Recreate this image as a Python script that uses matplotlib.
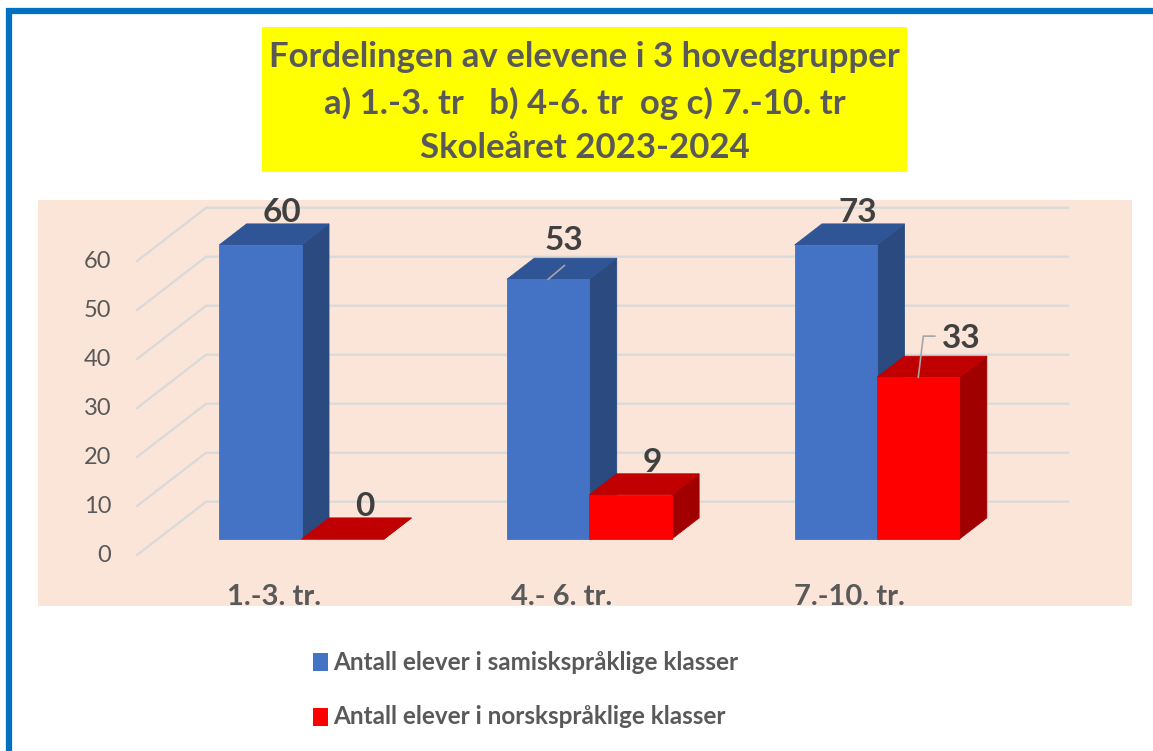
import matplotlib.pyplot as plt
from matplotlib.patches import Polygon, Rectangle

plt.rcParams['font.family'] = ['Lato', 'DejaVu Sans']


# --------------------------------------------------
# 1. Data
# --------------------------------------------------
categories = ["1.-3. tr.", "4.- 6. tr.", "7.-10. tr."]
series_names = [
    "Antall elever i samiskspråklige klasser",
    "Antall elever i norskspråklige klasser",
]
samisk = [60, 53, 73]
norsk = [0, 9, 33]
y_ticks = [0, 10, 20, 30, 40, 50, 60]
title_lines = [
    "Fordelingen av elevene i 3 hovedgrupper",
    "a) 1.-3. tr   b) 4-6. tr  og c) 7.-10. tr",
    "Skoleåret 2023-2024",
]


# --------------------------------------------------
# 2. Styling
# --------------------------------------------------
W, H = 1153, 751
front_col = ["#4472C4", "#FF0000"]
top_col = ["#2F5597", "#C00000"]
side_col = ["#2A4A80", "#A00000"]
grid_col = "#D9D9D9"
text_col = "#595959"
label_col = "#404040"

# pseudo-3D geometry (category units on x, value units on y)
px_per_cat = 287.7
px_per_val = 4.9
x0_px, y0_px = 280, 555.7
depth_dx = 70 / px_per_cat
depth_dv = 54 / px_per_val
bar_w = 82.4 / px_per_cat
d_front, d_back = 0.31, 0.70
y_max = max(y_ticks)


def proj(x, v, d):
    return (x + d * depth_dx, v + d * depth_dv)


def fx(px):
    return px / W


def fy(py):
    return 1 - py / H


fig = plt.figure(figsize=(W / 100, H / 100), dpi=100)
ax = fig.add_axes([0, 0, 1, 1])
ax.set_xlim(-x0_px / px_per_cat, (W - x0_px) / px_per_cat)
ax.set_ylim((y0_px - H) / px_per_val, y0_px / px_per_val)
ax.axis("off")

# frame, title box, plot area
ax.add_patch(Rectangle((fx(9), fy(H + 20)), fx(W + 40), fy(11) - fy(H + 20),
                       transform=fig.transFigure, fill=False,
                       edgecolor="#0070C0", linewidth=4.5, zorder=0))
ax.add_patch(Rectangle((fx(262), fy(172)), fx(907) - fx(262), fy(27) - fy(172),
                       transform=fig.transFigure, facecolor="#FFFF00",
                       edgecolor="none", zorder=0))
ax.add_patch(Rectangle((fx(38), fy(606)), fx(1132) - fx(38), fy(200) - fy(606),
                       transform=fig.transFigure, facecolor="#FAE5D8",
                       edgecolor="none", zorder=0))

for line, py in zip(title_lines, [57, 103, 148]):
    fig.text(fx(584.5), fy(py), line, ha="center", va="center",
             fontsize=25, fontweight="bold", color=text_col)


# --------------------------------------------------
# 3. Gridlines (side wall + back wall)
# --------------------------------------------------
floor_l, floor_r = -0.5, len(categories) - 0.5
for v in y_ticks:
    p0 = proj(floor_l, v, 0)
    p1 = proj(floor_l, v, 1)
    p2 = proj(floor_r, v, 1)
    ax.plot([p0[0], p1[0], p2[0]], [p0[1], p1[1], p2[1]],
            color=grid_col, lw=1.6, zorder=1, solid_capstyle="butt")
    ax.text(-0.587, v, str(v), ha="right", va="center",
            fontsize=17, color=text_col)

for i, cat in enumerate(categories):
    ax.text(i - 0.02, -8.4, cat, ha="center", va="center",
            fontsize=21, fontweight="bold", color=text_col)


# --------------------------------------------------
# 4. Bars
# --------------------------------------------------
def draw_bar(x_left, value, s):
    h = min(value, y_max)
    xl, xr = x_left, x_left + bar_w
    front = [proj(xl, 0, d_front), proj(xr, 0, d_front),
             proj(xr, h, d_front), proj(xl, h, d_front)]
    top = [proj(xl, h, d_front), proj(xr, h, d_front),
           proj(xr, h, d_back), proj(xl, h, d_back)]
    side = [proj(xr, 0, d_front), proj(xr, 0, d_back),
            proj(xr, h, d_back), proj(xr, h, d_front)]
    for pts, col in [(side, side_col[s]), (top, top_col[s]), (front, front_col[s])]:
        ax.add_patch(Polygon(pts, closed=True, facecolor=col,
                             edgecolor=col, lw=0.6, zorder=3))
    return h


series = [samisk, norsk]
# labels moved by hand in the original, with leader lines
moved = {(1, 0): (-0.02, 1.2), (2, 1): (0.075, 1.2)}

for i in range(len(categories)):
    for s, vals in enumerate(series):
        x_left = i - bar_w + s * bar_w
        h = draw_bar(x_left, vals[i], s)
        lx, lv = proj(x_left + bar_w / 2, h, 0.5)
        lx += 0.03
        lv += 4.6
        if (i, s) in moved:
            dx, dv = moved[(i, s)]
            lx += dx
            lv += dv
            sx, sv = proj(x_left + bar_w / 2, h, d_front)
            if s == 0:
                ax.plot([sx, lx], [sv, lv - 5.1], color="#A6A6A6", lw=1.2, zorder=4)
            else:
                ex = sx + 5 / px_per_cat
                ax.plot([sx, ex, lx - 27 / px_per_cat], [sv, lv + 0.5, lv + 0.5],
                        color="#A6A6A6", lw=1.2, zorder=4)
        ax.text(lx, lv, str(vals[i]), ha="center", va="center",
                fontsize=24, fontweight="bold", color=label_col, zorder=5)


# --------------------------------------------------
# 5. Legend
# --------------------------------------------------
for s, (name, py) in enumerate(zip(series_names, [662, 717])):
    ax.add_patch(Rectangle((fx(313), fy(py + 9)), fx(14.5), fy(0) - fy(18.5),
                           transform=fig.transFigure, facecolor=front_col[s],
                           edgecolor="none", zorder=2))
    fig.text(fx(333), fy(py), name, ha="left", va="center",
             fontsize=17.5, fontweight="bold", color=text_col)

fig.savefig("out.png", dpi=100)
